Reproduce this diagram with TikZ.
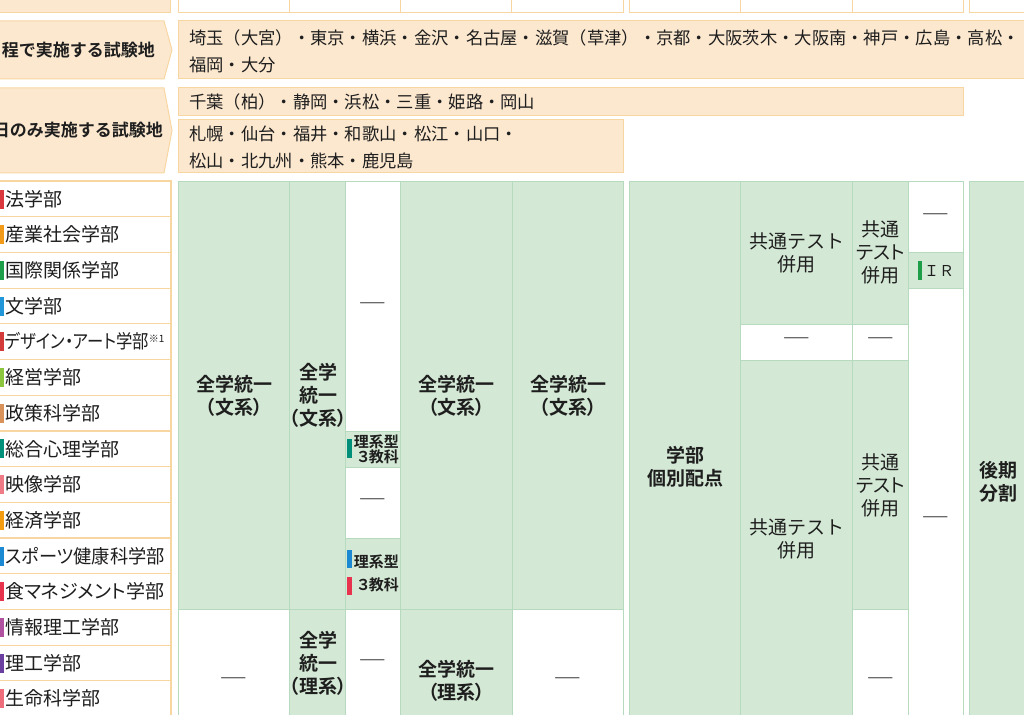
\documentclass[tikz,border=0pt]{standalone}
\usepackage{fontspec}
\usepackage{graphicx}
\setmainfont{Noto Sans CJK JP}[BoldFont={Noto Sans CJK JP Bold}]
\newfontfamily\pfont{Noto Sans CJK JP}[RawFeature=+palt,BoldFont={Noto Sans CJK JP Bold}]
\usetikzlibrary{positioning}

\definecolor{orfill}{HTML}{FCE8CF}
\definecolor{orline}{HTML}{F8D6A2}
\definecolor{gfill}{HTML}{D4E9D5}
\definecolor{gline}{HTML}{B6DABD}
\definecolor{txt}{HTML}{1E1E1E}
% faculty colours
\definecolor{fc0}{HTML}{D9383C}
\definecolor{fc1}{HTML}{F29A1A}
\definecolor{fc2}{HTML}{1E9E48}
\definecolor{fc3}{HTML}{2196D8}
\definecolor{fc4}{HTML}{D33A3A}
\definecolor{fc5}{HTML}{8CC63F}
\definecolor{fc6}{HTML}{D9925A}
\definecolor{fc7}{HTML}{00907A}
\definecolor{fc8}{HTML}{EE7B86}
\definecolor{fc9}{HTML}{F39C12}
\definecolor{fc10}{HTML}{1B8AD3}
\definecolor{fc11}{HTML}{E8334F}
\definecolor{fc12}{HTML}{B0529F}
\definecolor{fc13}{HTML}{6B3FA0}
\definecolor{fc14}{HTML}{EE6E7B}

\newcommand{\nil}{\scalebox{1.5}[1]{\bfseries ―}}
\newcommand{\tcell}[7]{\node[#1,minimum width={(#5-#3)*1pt},minimum height={(#6-#4)*35.7pt}] (#2) at (#3,{181+35.7*#4}) {#7};}

\begin{document}
\begin{tikzpicture}[x=1pt,y=-1pt,
  cell/.style={anchor=north west,inner sep=0pt,align=center,line width=1pt,text=txt,font=\fontsize{19}{23}\selectfont\pfont},
  gcell/.style={cell,fill=gfill,draw=gline},
  wcell/.style={cell,fill=white,draw=gline},
  wide/.style={font=\fontsize{19}{23}\selectfont\rmfamily},
  obox/.style={fill=orfill,draw=orline,line width=1pt},
  otop/.style={fill=white,draw=orline,line width=1pt},
  fac/.style={anchor=west,inner sep=0pt,text=txt,font=\fontsize{19}{23}\selectfont\pfont},
  place/.style={anchor=west,inner sep=0pt,align=left,text=txt,font=\fontsize{17.3}{27}\selectfont},
  sign/.style={anchor=east,inner sep=0pt,text=txt,font=\fontsize{17}{20}\selectfont\bfseries},
  small/.style={anchor=east,inner sep=0pt,align=right,text=txt,font=\fontsize{15}{#1}\selectfont\pfont\bfseries},
  ]
\useasboundingbox (0,0) rectangle (1024,714);
\clip (0,0) rectangle (1024,714);

% top strip
\draw[obox] (-5,-5) rectangle (170,13);
\foreach \xa/\xb in {178/289,289/400,400/511,511/623,629/740,740/852,852/963,969/1030}
  \draw[otop] (\xa,-5) rectangle (\xb,13);

% test sites
\draw[obox] (-5,21) -- (164,21) -- (172,50) -- (164,79) -- (-5,79) -- cycle;
\node[sign] (s1) at (155,50) {程で実施する試験地};
\draw[obox] (178,21) rectangle (1030,79);
\node[place] (l1) at (189,51) {埼玉（大宮）・東京・横浜・金沢・名古屋・滋賀（草津）・京都・大阪茨木・大阪南・神戸・広島・高松・\\福岡・大分};

\draw[obox] (-5,88) -- (164,88) -- (172,130.5) -- (164,173) -- (-5,173) -- cycle;
\node[sign] (s2) at (163,130.5) {日のみ実施する試験地};
\draw[obox] (178,88) rectangle (963,116);
\node[place] (l2) at (189,102) {千葉（柏）・静岡・浜松・三重・姫路・岡山};
\draw[obox] (178,120) rectangle (623,173);
\node[place] (l3) at (189,147) {札幌・仙台・福井・和歌山・松江・山口・\\松山・北九州・熊本・鹿児島};

% faculties
\foreach \nm/\cl [count=\i from 0] in {法学部/fc0,産業社会学部/fc1,国際関係学部/fc2,文学部/fc3,
    {\scalebox{0.86}[1]{デザイン・アート学部}\raisebox{6pt}{\fontsize{10}{10}\selectfont ※1}}/fc4,経営学部/fc5,政策科学部/fc6,
    総合心理学部/fc7,映像学部/fc8,経済学部/fc9,{\scalebox{0.96}[1]{スポーツ健康科学部}}/fc10,食マネジメント学部/fc11,
    情報理工学部/fc12,理工学部/fc13,生命科学部/fc14} {
  \draw[fill=white,draw=orline,line width=1.2pt] (-5,{181+35.7*\i}) rectangle (171,{216.7+35.7*\i});
  \fill[\cl] (0,{189.5+35.7*\i}) rectangle (3.5,{208.5+35.7*\i});
  \node[fac] (n\i) at (5,{198.85+35.7*\i}) {\nm};
}

% table body
\tcell{gcell}{a1}{178}{0}{289}{12}{\bfseries 全学統一\\\bfseries （文系）}
\tcell{wcell}{a2}{178}{12}{289}{16}{\nil}
\tcell{gcell}{b1}{289}{0}{345}{12}{\bfseries 全学\\\bfseries 統一\\\bfseries （文系）}
\tcell{gcell}{b2}{289}{12}{345}{15}{\bfseries 全学\\\bfseries 統一\\\bfseries （理系）}
\tcell{wcell}{c1}{345}{0}{400}{7}{\nil}
\tcell{gcell}{c2}{345}{7}{400}{8}{}
\tcell{wcell}{c3}{345}{8}{400}{10}{\nil}
\tcell{gcell}{c4}{345}{10}{400}{12}{}
\tcell{wcell}{c5}{345}{12}{400}{15}{\nil}
\tcell{gcell}{d1}{400}{0}{512}{12}{\bfseries 全学統一\\\bfseries （文系）}
\tcell{gcell}{d2}{400}{12}{512}{16}{\bfseries 全学統一\\\bfseries （理系）}
\tcell{gcell}{e1}{512}{0}{623}{12}{\bfseries 全学統一\\\bfseries （文系）}
\tcell{wcell}{e2}{512}{12}{623}{16}{\nil}
\tcell{gcell}{f1}{629}{0}{740}{16}{\bfseries 学部\\\bfseries 個別配点}
\tcell{gcell,wide}{g1}{740}{0}{852}{4}{共通テスト\\併用}
\tcell{wcell}{g2}{740}{4}{852}{5}{\nil}
\tcell{gcell,wide}{g3}{740}{5}{852}{15}{共通テスト\\併用}
\tcell{gcell}{h1}{852}{0}{908}{4}{共通\\テスト\\併用}
\tcell{wcell}{h2}{852}{4}{908}{5}{\nil}
\tcell{gcell}{h3}{852}{5}{908}{12}{共通\\テスト\\併用}
\tcell{wcell}{h4}{852}{12}{908}{16}{\nil}
\tcell{wcell}{i1}{908}{0}{963}{2}{\nil}
\tcell{gcell}{i2}{908}{2}{963}{3}{}
\tcell{wcell}{i3}{908}{3}{963}{16}{\nil}
\tcell{gcell}{j1}{969}{0}{1026}{16.8}{\bfseries 後期\\\bfseries 分割}

% small labels with bars
\fill[fc7] (347,439) rectangle (352,458);
\node[small=14] (k1) at (399,449) {理系型\\３教科};
\fill[fc10] (347,550) rectangle (352,568);
\fill[fc11] (347,577) rectangle (352,595);
\node[small=23] (k2) at (399,573) {理系型\\３教科};
\fill[fc2] (918,261) rectangle (922,280);
\node[anchor=west,inner sep=0pt,text=txt,font=\fontsize{15}{18}\selectfont] (ir) at (924,270.5) {ＩＲ};
\end{tikzpicture}
\end{document}
